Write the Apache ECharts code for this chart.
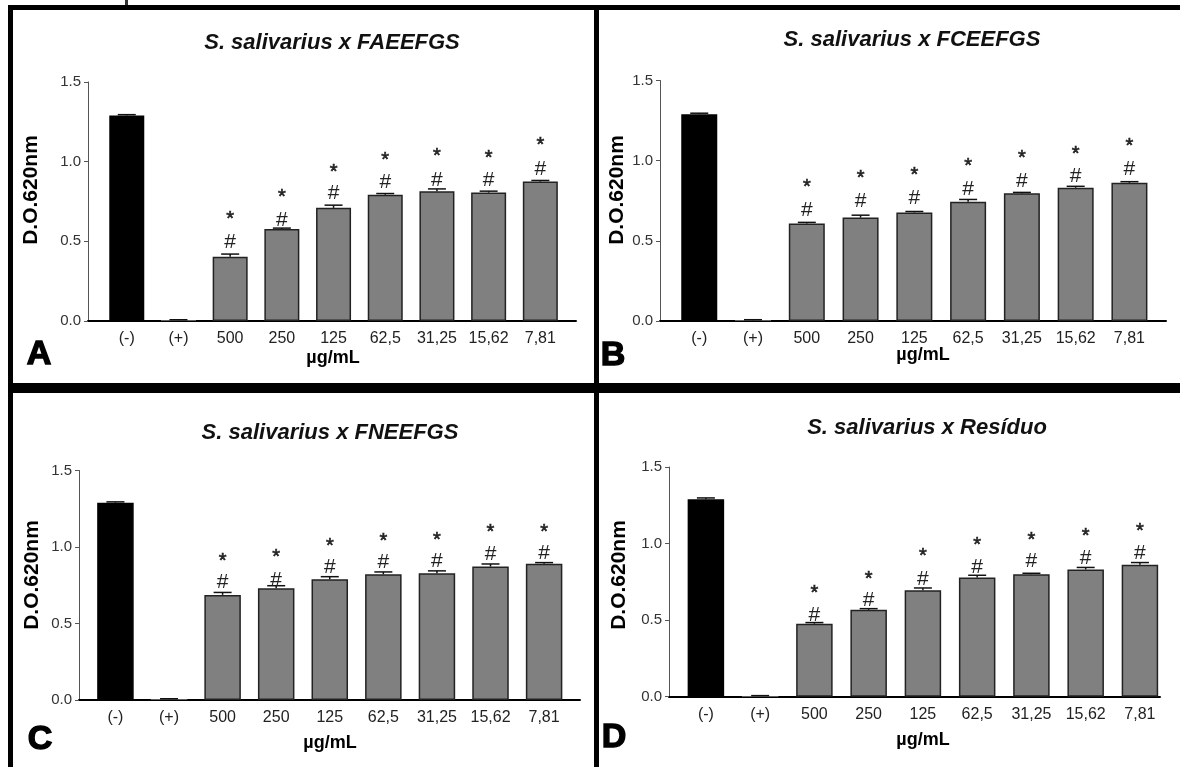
<!DOCTYPE html>
<html><head><meta charset="utf-8">
<script src="https://cdn.jsdelivr.net/npm/echarts@6/dist/echarts.min.js"></script>
<style>html,body{margin:0;padding:0;background:#fff}#c{width:1180px;height:767px}</style>
</head><body><div id="c"></div>
<script>
// ---------- data ----------
const categories = ['(-)', '(+)', '500', '250', '125', '62,5', '31,25', '15,62', '7,81'];
const yTicks = [0, 0.5, 1.0, 1.5];

const titleA = 'S. salivarius x FAEEFGS';
const valuesA = [1.29, 0.005, 0.403, 0.577, 0.71, 0.792, 0.815, 0.806, 0.875];
const errorsA = [0.005, 0.003, 0.017, 0.006, 0.017, 0.008, 0.014, 0.009, 0.007];
const hashA   = [null, null, 0.493, 0.633, 0.80, 0.873, 0.884, 0.882, 0.955];
const starA   = [null, null, 0.664, 0.804, 0.963, 1.038, 1.059, 1.051, 1.130];

const titleB = 'S. salivarius x FCEEFGS';
const valuesB = [1.29, 0.005, 0.608, 0.645, 0.677, 0.744, 0.796, 0.831, 0.862];
const errorsB = [0.006, 0.003, 0.007, 0.015, 0.006, 0.014, 0.006, 0.009, 0.007];
const hashB   = [null, null, 0.69, 0.75, 0.763, 0.819, 0.871, 0.906, 0.944];
const starB   = [null, null, 0.86, 0.919, 0.933, 0.99, 1.042, 1.065, 1.115];

const titleC = 'S. salivarius x FNEEFGS';
const valuesC = [1.29, 0.005, 0.687, 0.73, 0.79, 0.822, 0.828, 0.872, 0.89];
const errorsC = [0.005, 0.003, 0.016, 0.017, 0.016, 0.015, 0.016, 0.017, 0.008];
const hashC   = [null, null, 0.767, 0.785, 0.866, 0.898, 0.905, 0.955, 0.959];
const starC   = [null, null, 0.937, 0.959, 1.031, 1.064, 1.075, 1.123, 1.123];

const titleD = 'S. salivarius x Resíduo';
const valuesD = [1.29, 0.004, 0.477, 0.567, 0.695, 0.778, 0.80, 0.831, 0.861];
const errorsD = [0.008, 0.003, 0.007, 0.008, 0.015, 0.015, 0.006, 0.013, 0.015];
const hashD   = [null, null, 0.53, 0.632, 0.767, 0.846, 0.883, 0.905, 0.938];
const starD   = [null, null, 0.702, 0.796, 0.942, 1.016, 1.047, 1.077, 1.108];

const yName = 'D.O.620nm';
const xName = 'µg/mL';

// ---------- layout ----------
const FONT = '"Liberation Sans", Arial, sans-serif';
const panels = [
  {letter:'A', title:titleA, values:valuesA, errors:errorsA, hash:hashA, star:starA,
   left:88, top:82, width:488, height:239, xMin:-0.75, xMax:8.69, barW:35,
   titleX:332, titleY:43, letterX:39, letterY:355, yNameX:31, yNameY:190, xNameX:333, xNameY:358},
  {letter:'B', title:titleB, values:valuesB, errors:errorsB, hash:hashB, star:starB,
   left:660, top:80.5, width:506, height:240.5, xMin:-0.73, xMax:8.68, barW:36,
   titleX:912, titleY:40, letterX:613, letterY:356, yNameX:617, yNameY:190, xNameX:923, xNameY:355},
  {letter:'C', title:titleC, values:valuesC, errors:errorsC, hash:hashC, star:starC,
   left:79, top:470.5, width:501, height:229.5, xMin:-0.68, xMax:8.67, barW:36.5,
   titleX:330, titleY:433, letterX:40, letterY:740, yNameX:32, yNameY:575, xNameX:330, xNameY:743},
  {letter:'D', title:titleD, values:valuesD, errors:errorsD, hash:hashD, star:starD,
   left:669, top:467, width:491, height:229.7, xMin:-0.68, xMax:8.37, barW:36.5,
   titleX:927, titleY:428, letterX:614, letterY:738, yNameX:619, yNameY:575, xNameX:923, xNameY:740}
];

const grid = [], xAxis = [], yAxis = [], series = [], graphic = [];

// frame lines
graphic.push(
  {type:'rect', shape:{x:8, y:5, width:1172, height:5}, style:{fill:'#000'}},
  {type:'rect', shape:{x:8, y:5, width:5, height:762}, style:{fill:'#000'}},
  {type:'rect', shape:{x:594, y:5, width:5, height:762}, style:{fill:'#000'}},
  {type:'rect', shape:{x:8, y:383, width:1172, height:10}, style:{fill:'#000'}},
  {type:'rect', shape:{x:125, y:0, width:3, height:5}, style:{fill:'#333'}}
);

panels.forEach((p, i) => {
  grid.push({left:p.left, top:p.top, width:p.width, height:p.height});
  xAxis.push({
    type:'value', gridIndex:i, min:p.xMin, max:p.xMax,
    axisLine:{show:true, onZero:false, lineStyle:{color:'#000', width:2}},
    axisTick:{show:false}, splitLine:{show:false},
    axisLabel:{customValues:categories.map((c, j) => j), formatter:v => categories[Math.round(v)],
      margin:10, fontSize:16, color:'#222', fontFamily:FONT}
  });
  yAxis.push({
    type:'value', gridIndex:i, min:yTicks[0], max:yTicks[yTicks.length-1], interval:0.5,
    axisLine:{show:true, onZero:false, lineStyle:{color:'#555', width:1}},
    axisTick:{show:true, length:4, lineStyle:{color:'#555'}},
    splitLine:{show:false},
    axisLabel:{formatter:v => v.toFixed(1), fontSize:15, color:'#333', margin:7, fontFamily:FONT}
  });
  series.push({
    type:'bar', xAxisIndex:i, yAxisIndex:i, barWidth:p.barW, animation:false, silent:true,
    itemStyle:{color:'#808080', borderColor:'#222', borderWidth:1.5},
    data:p.values.map((v, j) => {
      if (j === 0) return {value:[j, v], itemStyle:{color:'#000', borderColor:'#000'}};
      if (j === 1) return {value:[j, v], itemStyle:{color:'#808080', borderWidth:0}};
      return {value:[j, v]};
    })
  });
  series.push({
    type:'custom', xAxisIndex:i, yAxisIndex:i, animation:false, silent:true, z:5,
    data:p.values.map((v, j) => [j, v, p.errors[j]]),
    renderItem:(params, api) => {
      const x = api.value(0), v = api.value(1), e = api.value(2);
      const b = api.coord([x, v]), t = api.coord([x, v + e]);
      const half = 9;
      return {type:'group', children:[
        {type:'line', shape:{x1:b[0], y1:b[1], x2:t[0], y2:t[1]}, style:{stroke:'#111', lineWidth:1.5}},
        {type:'line', shape:{x1:t[0]-half, y1:t[1], x2:t[0]+half, y2:t[1]}, style:{stroke:'#111', lineWidth:1.5}}
      ]};
    }
  });
  const ann = [];
  p.hash.forEach((h, j) => { if (h != null) ann.push([j, h, p.star[j]]); });
  series.push({
    type:'custom', xAxisIndex:i, yAxisIndex:i, animation:false, silent:true, z:6,
    data:ann,
    renderItem:(params, api) => {
      const x = api.value(0);
      const ph = api.coord([x, api.value(1)]), ps = api.coord([x, api.value(2)]);
      return {type:'group', children:[
        {type:'text', style:{text:'#', x:ph[0], y:ph[1], align:'center', verticalAlign:'middle',
          font:'21px ' + FONT, fill:'#222'}},
        {type:'text', style:{text:'*', x:ps[0], y:ps[1] + 4.5, align:'center', verticalAlign:'middle',
          font:'20px ' + FONT, fill:'#222', stroke:'#222', lineWidth:0.6}}
      ]};
    }
  });
  graphic.push(
    {type:'text', x:p.titleX, y:p.titleY, style:{text:p.title, align:'center', verticalAlign:'middle',
      font:'italic bold 22px ' + FONT, fill:'#111'}},
    {type:'text', x:p.letterX, y:p.letterY, style:{text:p.letter, align:'center', verticalAlign:'middle',
      font:'bold 34px ' + FONT, fill:'#000', stroke:'#000', lineWidth:1.4}},
    {type:'text', x:p.yNameX, y:p.yNameY, rotation:Math.PI/2, style:{text:yName, align:'center', verticalAlign:'middle',
      font:'bold 21px ' + FONT, fill:'#000'}},
    {type:'text', x:p.xNameX, y:p.xNameY, style:{text:xName, align:'center', verticalAlign:'middle',
      font:'bold 18px ' + FONT, fill:'#000'}}
  );
});

const chart = echarts.init(document.getElementById('c'), null, {renderer:'canvas'});
chart.setOption({animation:false, backgroundColor:'#fff', grid, xAxis, yAxis, series, graphic});
</script>
</body></html>
